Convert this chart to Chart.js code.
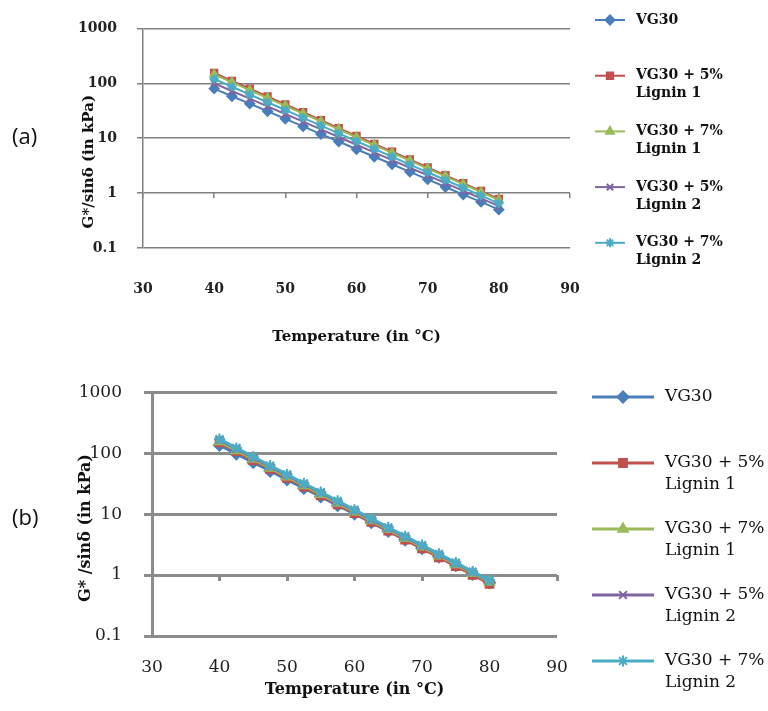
<!DOCTYPE html>
<html>
<head>
<meta charset="utf-8">
<script src="https://cdn.jsdelivr.net/npm/chart.js@4.4.0/dist/chart.umd.min.js"></script>
<style>
  body { margin: 0; background: #fff; width: 768px; height: 711px; position: relative; overflow: hidden; }
  .wrap { position: absolute; left: 0; width: 768px; }
  #boxA { top: 0; height: 350px; }
  #boxB { top: 360px; height: 351px; }
  .tag { position: absolute; font-family: "Open Sans", "Liberation Sans", sans-serif; font-size: 22px; color: #111; }
</style>
</head>
<body>
<div class="wrap" id="boxA"><canvas id="chartA" width="768" height="350"></canvas></div>
<div class="wrap" id="boxB"><canvas id="chartB" width="768" height="351"></canvas></div>
<div class="tag" style="left:12px; top:120px;">(a)</div>
<div class="tag" style="left:12px; top:501px;">(b)</div>
<script>
// temperatures (deg C) shared by both panels
const temps = [40, 42.5, 45, 47.5, 50, 52.5, 55, 57.5, 60, 62.5, 65, 67.5, 70, 72.5, 75, 77.5, 80];
const xTicks = [30, 40, 50, 60, 70, 80, 90];
const yTicks = [0.1, 1, 10, 100, 1000];

const seriesNames = [
  ['VG30'],
  ['VG30 + 5%', 'Lignin 1'],
  ['VG30 + 7%', 'Lignin 1'],
  ['VG30 + 5%', 'Lignin 2'],
  ['VG30 + 7%', 'Lignin 2']
];
const colors = ['#4A7EBB', '#C0504D', '#9BBB59', '#8064A2', '#4BACC6'];
const markers = ['rectRot', 'rect', 'triangle', 'crossRot', 'star'];

// panel (a) G*/sin(delta), kPa
const a_vg30 = [80, 58, 42.5, 31, 22.5, 16.4, 11.9, 8.7, 6.3, 4.6, 3.35, 2.44, 1.78, 1.29, 0.94, 0.69, 0.5];
const a_l1_5 = [155, 111, 80, 57.5, 41.3, 29.7, 21.3, 15.3, 11.0, 7.9, 5.7, 4.1, 2.94, 2.11, 1.51, 1.09, 0.78];
const a_l1_7 = [145, 104, 75, 54, 38.9, 28.0, 20.2, 14.5, 10.4, 7.5, 5.4, 3.9, 2.8, 2.02, 1.45, 1.04, 0.75];
const a_l2_5 = [100, 72.5, 52.5, 38.0, 27.6, 20.0, 14.5, 10.5, 7.6, 5.5, 4.0, 2.9, 2.1, 1.52, 1.10, 0.80, 0.58];
const a_l2_7 = [120, 86.6, 62.5, 45.1, 32.6, 23.5, 17.0, 12.2, 8.8, 6.4, 4.6, 3.3, 2.4, 1.73, 1.25, 0.90, 0.65];

// panel (b)
const b_vg30 = [135, 97.6, 70.5, 51.0, 36.9, 26.6, 19.3, 13.9, 10.1, 7.3, 5.26, 3.8, 2.75, 1.99, 1.44, 1.04, 0.75];
const b_l1_5 = [150, 107, 77, 55, 39.5, 28.3, 20.3, 14.5, 10.4, 7.45, 5.34, 3.82, 2.74, 1.96, 1.40, 1.01, 0.72];
const b_l1_7 = [155, 111, 80, 57.3, 41.1, 29.5, 21.2, 15.2, 10.9, 7.83, 5.62, 4.03, 2.9, 2.08, 1.49, 1.07, 0.77];
const b_l2_5 = [165, 118, 84.7, 60.7, 43.5, 31.2, 22.4, 16.0, 11.5, 8.2, 5.9, 4.23, 3.03, 2.17, 1.56, 1.12, 0.80];
const b_l2_7 = [170, 122, 87.3, 62.5, 44.8, 32.1, 23.0, 16.5, 11.8, 8.46, 6.06, 4.34, 3.11, 2.23, 1.60, 1.14, 0.82];

// legend drawn at the right with wrapped labels
const sideLegend = {
  id: 'sideLegend',
  afterDraw(chart, args, o) {
    const ctx = chart.ctx;
    chart.data.datasets.forEach((ds, i) => {
      const y = o.top + i * o.gap;
      ctx.save();
      ctx.strokeStyle = ds.borderColor;
      ctx.lineWidth = ds.borderWidth;
      ctx.beginPath();
      ctx.moveTo(o.lineFrom, y);
      ctx.lineTo(o.lineTo, y);
      ctx.stroke();
      ctx.fillStyle = ds.pointBackgroundColor;
      ctx.strokeStyle = ds.pointBorderColor;
      ctx.lineWidth = ds.pointBorderWidth;
      Chart.helpers.drawPoint(ctx, { pointStyle: ds.pointStyle, radius: ds.pointRadius, borderWidth: ds.pointBorderWidth, rotation: 0 }, o.marker, y);
      ctx.fillStyle = '#111';
      ctx.font = o.font;
      ctx.textBaseline = 'middle';
      seriesNames[i].forEach((t, k) => ctx.fillText(t, o.textX, y + k * o.lineH));
      ctx.restore();
    });
  }
};

function makeSets(list, lw, r) {
  return list.map((vals, i) => ({
    label: seriesNames[i].join(' '),
    data: temps.map((t, k) => ({ x: t, y: vals[k] })),
    borderColor: colors[i],
    backgroundColor: colors[i],
    borderWidth: lw,
    pointStyle: markers[i],
    pointRadius: r,
    pointBackgroundColor: colors[i],
    pointBorderColor: colors[i],
    pointBorderWidth: 2,
    tension: 0,
    order: list.length - i
  }));
}

function makeChart(id, sets, s) {
  const tickFont = { family: 'DejaVu Serif', size: s.tickSize, weight: s.tickWeight };
  const titleFont = { family: 'DejaVu Serif', size: s.titleSize, weight: 'bold' };
  return new Chart(document.getElementById(id), {
    type: 'line',
    data: { datasets: sets },
    options: {
      responsive: false,
      animation: false,
      layout: { padding: s.pad },
      plugins: {
        legend: { display: false },
        tooltip: { enabled: false },
        sideLegend: s.legend
      },
      scales: {
        x: {
          type: 'linear',
          position: 'bottom',
          min: 30,
          max: 90,
          afterBuildTicks: sc => { sc.ticks = xTicks.map(v => ({ value: v })); },
          afterFit: sc => { sc.height = s.xHeight; },
          grid: { display: false },
          border: { display: false },
          ticks: { color: '#222', font: tickFont, padding: s.xTickPad, maxRotation: 0 },
          title: { display: true, text: 'Temperature (in °C)', color: '#111', font: titleFont }
        },
        // tick marks where the horizontal axis crosses y = 1
        x2: {
          type: 'linear',
          position: { y: 1 },
          min: 30,
          max: 90,
          afterBuildTicks: sc => { sc.ticks = xTicks.map(v => ({ value: v })); },
          grid: { display: true, drawOnChartArea: false, drawTicks: true, tickLength: s.markLen, color: s.gridColor, lineWidth: s.gridWidth },
          border: { display: false },
          ticks: { display: false }
        },
        y: {
          type: 'logarithmic',
          min: 0.1,
          max: 1000,
          afterBuildTicks: sc => { sc.ticks = yTicks.map(v => ({ value: v })); },
          afterFit: sc => { sc.width = s.yWidth; },
          grid: { color: s.gridColor, lineWidth: s.gridWidth, drawTicks: true, tickLength: s.yTickLen },
          border: { display: true, color: s.gridColor, width: s.gridWidth },
          ticks: { color: '#222', font: tickFont, padding: s.yTickPad, callback: v => String(v) },
          title: { display: true, text: s.yTitle, color: '#111', font: titleFont }
        }
      }
    },
    plugins: [sideLegend]
  });
}

makeChart('chartA', makeSets([a_vg30, a_l1_5, a_l1_7, a_l2_5, a_l2_7], 2, 4.5), {
  pad: { left: 76, right: 198, top: 25, bottom: 0 },
  yWidth: 67, xHeight: 102, xTickPad: 25, yTickPad: 20, yTickLen: 6, markLen: 5,
  tickSize: 14, tickWeight: 'bold', titleSize: 15,
  gridColor: '#808080', gridWidth: 1.5,
  yTitle: 'G*/sinδ (in kPa)\u00a0\u00a0\u00a0\u00a0\u00a0\u00a0\u00a0\u00a0\u00a0',
  legend: { top: 20, gap: 55.7, lineFrom: 595, lineTo: 625, marker: 610, textX: 636, lineH: 18, font: 'bold 14px "DejaVu Serif"' }
});

makeChart('chartB', makeSets([b_vg30, b_l1_5, b_l1_7, b_l2_5, b_l2_7], 3, 5.5), {
  pad: { left: 72, right: 211, top: 32, bottom: 8 },
  yWidth: 80, xHeight: 67, xTickPad: 13, yTickPad: 22, yTickLen: 8, markLen: 6,
  tickSize: 17, tickWeight: 'normal', titleSize: 16,
  gridColor: '#8c8c8c', gridWidth: 3,
  yTitle: 'G* /sinδ (in kPa)\u00a0\u00a0\u00a0\u00a0\u00a0',
  legend: { top: 37, gap: 66, lineFrom: 592, lineTo: 654, marker: 623, textX: 665, lineH: 22, font: '17px "DejaVu Serif"' }
});
</script>
</body>
</html>
